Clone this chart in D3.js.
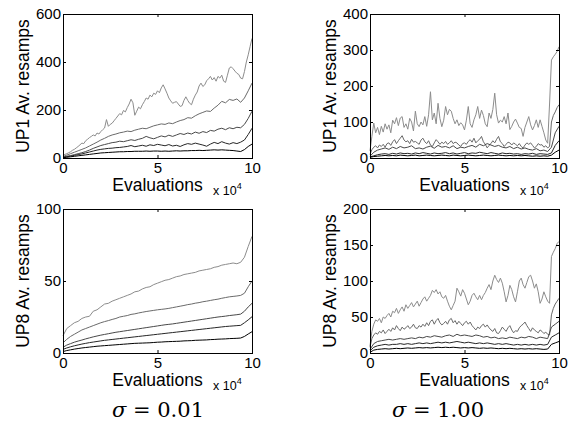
<!DOCTYPE html>
<html>
<head>
<meta charset="utf-8">
<script src="https://cdn.jsdelivr.net/npm/d3@7"></script>
<style>
  body { margin: 0; background: #fff; }
  svg { display: block; }
  text { font-family: "Liberation Sans", Arial, sans-serif; }
</style>
</head>
<body>
<div class="fig"></div>
<script>
// x axis runs 0..10 (x 10^4 evaluations); every series is sampled evenly over it
const xTickVals = [0, 5, 10];

// UP1, sigma = 0.01  (top line lightest grey ... bottom line black)
const up1Sigma001 = [
  [12,15,18,22,26,32,36,42,48,55,
   62,60,72,78,85,90,96,92,104,100,
   110,118,125,160,132,140,145,155,165,175,
   185,180,198,192,210,225,245,230,178,195,
   212,205,222,235,250,245,262,255,270,265,
   280,272,292,305,288,270,250,238,228,232,
   235,225,215,218,240,255,240,228,222,245,
   262,275,300,312,298,305,322,330,340,325,
   335,320,340,333,345,320,315,345,375,380,
   372,362,353,348,333,330,360,400,430,465,498],
  [6,12,18,24,30,36,42,50,58,66,
   75,82,90,96,100,105,108,112,110,116,
   120,124,122,128,134,138,142,140,146,143,
   150,156,160,168,166,176,184,190,196,194,
   208,220,236,230,244,240,246,232,250,280,312],
  [4,7,10,14,18,22,27,33,40,46,
   52,56,60,64,66,70,68,72,76,73,
   78,82,90,84,80,86,92,88,95,90,
   96,102,98,104,100,108,103,110,106,115,
   112,120,124,118,126,122,128,126,140,165,195],
  [2,5,8,11,14,17,21,25,29,33,
   36,38,40,41,43,44,46,48,52,47,
   50,53,49,55,52,57,54,51,56,50,
   53,48,55,60,57,62,58,54,49,58,
   65,60,68,62,58,64,60,66,75,98,124],
  [1,3,5,7,9,11,13,15,17,19,
   21,22,23,24,25,26,26,27,27,28,
   28,28,29,28,29,29,28,29,28,29,
   30,29,30,30,31,31,32,31,32,33,
   34,33,34,33,32,31,29,27,35,48,58]
];

// UP1, sigma = 1.00
const up1Sigma100 = [
  [20,60,97,70,85,65,88,72,95,80,
   92,70,105,95,112,90,111,115,85,95,
   80,110,100,75,130,95,87,100,92,115,
   88,120,184,106,125,95,152,110,87,105,
   143,120,135,130,110,95,106,90,98,92,
   78,105,143,95,85,106,120,143,110,133,
   118,95,87,125,110,135,180,120,97,105,
   100,115,95,125,79,88,100,108,97,85,
   82,60,85,100,115,92,78,90,106,85,
   106,88,70,50,41,150,272,281,288,296,309],
  [10,23,30,34,28,36,32,38,30,40,
   42,35,45,51,40,48,55,62,50,45,
   48,40,52,44,46,42,38,50,55,45,
   40,48,36,32,42,51,45,38,44,40,
   46,38,42,48,40,44,42,36,32,40,
   42,38,46,51,44,55,42,48,52,60,
   45,38,28,35,40,48,42,52,60,45,
   40,32,38,44,42,36,42,38,34,40,
   32,28,36,42,38,42,35,28,32,40,
   36,37,30,34,28,32,100,118,128,140,148],
  [5,16,22,25,28,24,30,26,32,28,
   30,34,26,28,25,30,33,27,35,30,
   32,28,34,26,30,28,32,35,30,38,
   34,40,36,32,35,30,28,32,26,30,
   25,28,24,22,26,20,22,18,30,70,88],
  [3,6,9,11,12,10,13,11,14,12,
   13,11,14,12,15,13,11,14,12,13,
   15,12,14,11,13,15,12,14,13,16,
   14,12,15,13,11,14,12,13,11,12,
   10,12,11,13,10,12,11,10,14,35,48],
  [2,4,5,6,7,6,7,6,8,7,
   6,7,8,6,7,8,7,6,7,8,
   7,6,8,7,6,7,8,7,6,7,
   8,7,6,7,8,7,6,7,6,7,
   6,7,6,5,6,5,6,5,8,16,22]
];

// UP8, sigma = 0.01
const up8Sigma001 = [
  [12,17,19,21,22,24,25,25.5,29,30,
   32,34,34.5,36,37,38,39,40,41,42.5,
   43,44.5,45.5,46,47.5,48.5,49.5,50.5,51,52,
   53,53.5,54.5,55,55.5,56,57,57.5,58,58.5,
   59.5,60,61,61.5,62,62.5,62,63,66.5,74,81],
  [7,9.5,11.5,13,14.5,16,17,18,19,20,
   21,21.8,22.5,23.3,24,25,25.5,26,26.8,27.2,
   27.8,28.3,28.8,29.2,29.6,30,30.3,30.6,31,31.5,
   32,32.5,33,33.6,34,34.6,35,35.6,36,36.5,
   37,37.4,38,38.5,39,39.3,39.6,40,41.5,46,50],
  [4,5.5,6.5,7.5,8.3,9,9.8,10.5,11.2,11.8,
   12.4,12.9,13.4,13.9,14.4,14.8,15.2,15.6,16,16.4,
   16.8,17.2,17.6,18,18.4,18.8,19.2,19.6,19.9,20.2,
   20.6,21,21.4,21.8,22.2,22.6,23,23.4,23.8,24.2,
   24.6,25,25.3,25.6,26,26.3,26.6,27,29,32,34.5],
  [2.5,3.5,4.3,5,5.6,6.2,6.7,7.2,7.6,8,
   8.4,8.8,9.1,9.4,9.7,10,10.3,10.6,10.9,11.2,
   11.5,11.8,12.1,12.4,12.7,13,13.3,13.6,13.9,14.2,
   14.5,14.8,15.1,15.4,15.7,16,16.3,16.6,16.9,17.2,
   17.5,17.8,18.1,18.4,18.6,18.8,19,19.2,21,23,25.2],
  [1,1.7,2.2,2.7,3.1,3.5,3.8,4.1,4.4,4.7,
   4.9,5.1,5.3,5.5,5.7,5.9,6.1,6.3,6.5,6.7,
   6.8,6.9,7,7.1,7.3,7.5,7.6,7.8,7.9,8,
   8.1,8.2,8.4,8.5,8.6,8.8,8.9,9,9.1,9.3,
   9.4,9.6,9.7,9.8,10,10.1,10.2,10.4,11.5,13.2,14.8]
];

// UP8, sigma = 1.00
const up8Sigma100 = [
  [10,30,40,46,44,48,42,50,48,52,
   55,50,58,56,62,55,60,64,58,67,
   62,66,70,64,68,72,65,70,75,78,
   72,76,80,87,84,88,82,85,78,76,
   80,72,65,60,66,72,90,85,79,88,
   83,75,67,72,80,83,78,74,80,74,
   80,84,90,95,88,100,108,102,98,104,
   97,85,71,80,94,88,78,71,85,100,
   104,95,90,98,106,108,100,90,96,85,
   69,75,85,78,72,69,134,140,145,152,155],
  [8,20,25,28,26,30,28,32,27,30,
   33,30,35,32,38,34,31,36,33,35,
   38,34,36,40,35,34,38,36,40,37,
   42,38,44,46,40,45,48,42,39,41,
   44,40,46,48,42,45,40,44,41,38,
   42,44,40,43,38,35,32,36,34,38,
   40,36,39,35,32,30,34,28,27,31,
   36,33,30,35,38,32,28,31,30,35,
   38,40,43,38,34,30,35,32,30,28,
   32,30,27,29,26,25,53,62,68,72,76],
  [5,13,16,17,18,19,18,19,20,19,
   20,21,20,22,21,23,22,24,23,22,
   24,25,23,26,24,25,24,23,25,24,
   22,23,21,22,20,21,20,22,21,20,
   22,21,23,22,20,22,21,20,36,40,44],
  [3,8,10,11,12,11,12,12,13,12,
   13,12,13,14,13,14,13,14,15,14,
   15,14,15,16,15,14,15,14,13,14,
   13,14,13,12,13,12,13,12,11,12,
   11,12,11,12,11,12,11,12,22,25,28],
  [1,4,5,5.5,6,5.5,6,6.5,6,6.5,
   7,6.5,7,7.5,7,7.5,7,7.5,8,7.5,
   8,7.5,8,7.5,7,7.5,7,7.5,7,6.5,
   7,6.5,7,6.5,6,6.5,6,6.5,6,5.5,
   6,5.5,6,5.5,6,5.5,5,5.5,12,14,16]
];

const panelSeries = [up1Sigma001, up1Sigma100, up8Sigma001, up8Sigma100];
const panelLabels = ["UP1 Av. resamps", "UP1 Av. resamps", "UP8 Av. resamps", "UP8 Av. resamps"];
const panelYMax = [600, 400, 100, 200];
const panelYTicks = [[0, 200, 400, 600], [0, 100, 200, 300, 400], [0, 50, 100], [0, 50, 100, 150, 200]];
const sigmaLabels = ["0.01", "1.00"];

// layout
const W = 575, H = 428;
const plotW = 189, plotH = 144;
const origins = [[63, 14], [370, 14], [63, 209], [370, 209]];
const captionX = [158, 438];
const lineColors = ["#8c8c8c", "#6a6a6a", "#494949", "#262626", "#000000"];

const svg = d3.select(".fig").append("svg")
  .attr("width", W)
  .attr("height", H)
  .attr("viewBox", [0, 0, W, H]);

const x = d3.scaleLinear().domain([0, 10]).range([0, plotW]);

panelSeries.forEach((series, k) => {
  const [x0, y0] = origins[k];
  const g = svg.append("g").attr("transform", `translate(${x0},${y0})`);
  const y = d3.scaleLinear().domain([0, panelYMax[k]]).range([plotH, 0]);

  const line = d3.line()
    .x((d, i, a) => x(10 * i / (a.length - 1)))
    .y(d => y(d));

  g.selectAll(".series")
    .data(series)
    .join("path")
      .attr("class", "series")
      .attr("d", line)
      .attr("fill", "none")
      .attr("stroke", (d, i) => lineColors[i])
      .attr("stroke-width", 1);

  // axes, ticks pointing inward (matlab style)
  const bottom = g.append("g")
    .attr("transform", `translate(0,${plotH})`)
    .call(d3.axisBottom(x).tickValues(xTickVals).tickSize(-3).tickSizeOuter(0).tickPadding(4));
  const left = g.append("g")
    .call(d3.axisLeft(y).tickValues(panelYTicks[k]).tickSize(-3).tickSizeOuter(0).tickPadding(2));
  g.append("g")
    .call(d3.axisTop(x).tickValues(xTickVals).tickSize(-3).tickSizeOuter(0).tickFormat(""));
  g.append("g")
    .attr("transform", `translate(${plotW},0)`)
    .call(d3.axisRight(y).tickValues(panelYTicks[k]).tickSize(-3).tickSizeOuter(0).tickFormat(""));

  g.selectAll(".domain").remove();
  [bottom, left].forEach(a => a
    .attr("font-size", 15)
    .attr("font-family", "Liberation Sans, Arial, sans-serif"));

  g.append("rect")
    .attr("x", 0.5).attr("y", 0.5)
    .attr("width", plotW).attr("height", plotH)
    .attr("fill", "none")
    .attr("stroke", "#000")
    .attr("stroke-width", 1);

  // labels
  g.append("text")
    .attr("transform", `translate(-34,${plotH / 2}) rotate(-90)`)
    .attr("text-anchor", "middle")
    .attr("font-size", 17.5)
    .text(panelLabels[k]);

  g.append("text")
    .attr("x", plotW / 2)
    .attr("y", plotH + 33)
    .attr("text-anchor", "middle")
    .attr("font-size", 17.5)
    .text("Evaluations");

  const mult = g.append("text")
    .attr("x", 150)
    .attr("y", plotH + 37)
    .attr("font-size", 12.5)
    .text("x 10");
  mult.append("tspan")
    .attr("dy", -6)
    .attr("font-size", 9)
    .text("4");
});

// sigma captions under each column
sigmaLabels.forEach((s, j) => {
  const t = svg.append("text")
    .attr("x", captionX[j])
    .attr("y", 417)
    .attr("text-anchor", "middle")
    .attr("font-size", 21)
    .style("font-family", "DejaVu Serif, serif");
  t.append("tspan").attr("font-style", "italic").text("σ");
  t.append("tspan").text(" = " + s);
});
</script>
</body>
</html>
